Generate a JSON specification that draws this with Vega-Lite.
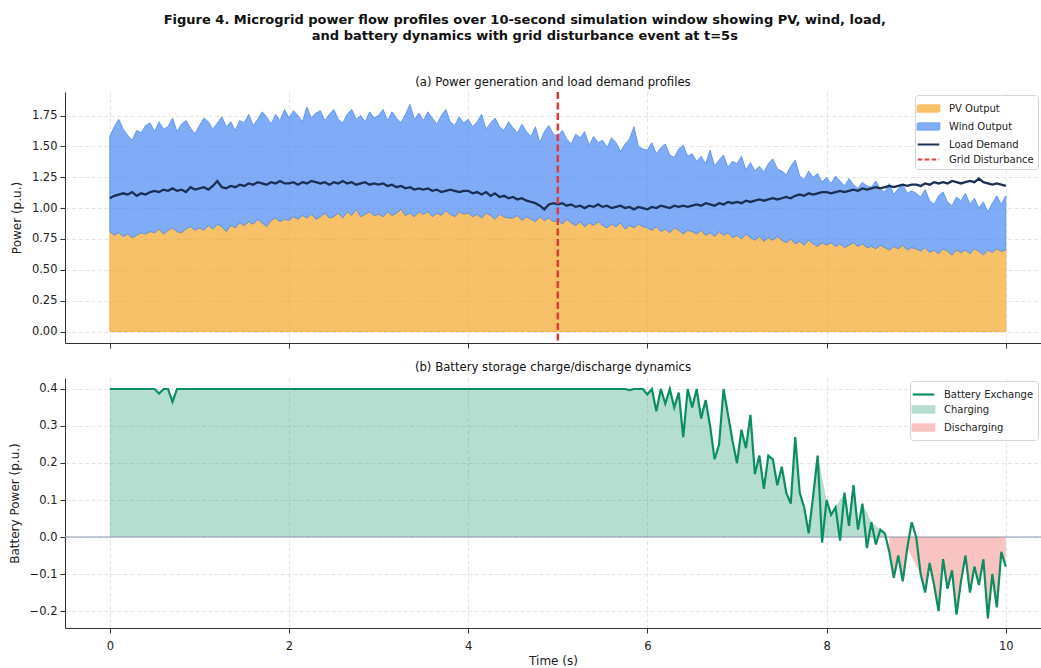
{
"$schema": "https://vega.github.io/schema/vega-lite/v6.json",
"padding": {"top": 14, "left": 8, "right": 0, "bottom": 0},
"config": {
  "font": "DejaVu Sans",
  "view": {"stroke": null},
  "axis": {"labelFont": "DejaVu Sans", "titleFont": "DejaVu Sans", "labelFontSize": 11.5, "titleFontSize": 12, "titleFontWeight": "normal", "labelColor": "#222222", "titleColor": "#222222", "domainColor": "#333333", "tickColor": "#333333", "tickSize": 5, "labelPadding": 3, "gridColor": "#dedede", "gridDash": [4, 2.5], "gridWidth": 0.8},
  "axisY": {"titlePadding": 8},
  "axisX": {"titlePadding": 4, "labelPadding": 7},
  "legend": {"labelFont": "DejaVu Sans", "labelFontSize": 10, "labelColor": "#222222", "symbolSize": 256, "labelOffset": 11, "rowPadding": 0, "padding": 4, "strokeColor": "#d5d5d5", "fillColor": "rgba(255,255,255,0.85)", "cornerRadius": 3, "orient": "top-right", "offset": 3, "title": null, "symbolOpacity": 1, "symbolStrokeWidth": 2.2}
},
"title": {"text": ["Figure 4. Microgrid power flow profiles over 10-second simulation window showing PV, wind, load,", "and battery dynamics with grid disturbance event at t=5s"], "fontSize": 13, "fontWeight": "bold", "font": "DejaVu Sans", "color": "#111111", "anchor": "middle", "offset": 34, "lineHeight": 16},
"datasets": {"mg": [
{"t":0,"pv":0.81,"gen":1.58,"load":1.08,"bat":0.4},
{"t":0.05,"pv":0.78,"gen":1.66,"load":1.10,"bat":0.4},
{"t":0.1,"pv":0.80,"gen":1.72,"load":1.11,"bat":0.4},
{"t":0.15,"pv":0.77,"gen":1.64,"load":1.12,"bat":0.4},
{"t":0.2,"pv":0.79,"gen":1.59,"load":1.11,"bat":0.4},
{"t":0.25,"pv":0.76,"gen":1.55,"load":1.13,"bat":0.4},
{"t":0.3,"pv":0.78,"gen":1.63,"load":1.10,"bat":0.4},
{"t":0.35,"pv":0.80,"gen":1.61,"load":1.12,"bat":0.4},
{"t":0.4,"pv":0.79,"gen":1.67,"load":1.11,"bat":0.4},
{"t":0.45,"pv":0.81,"gen":1.69,"load":1.13,"bat":0.4},
{"t":0.5,"pv":0.80,"gen":1.62,"load":1.14,"bat":0.4},
{"t":0.55,"pv":0.83,"gen":1.70,"load":1.13,"bat":0.388},
{"t":0.6,"pv":0.79,"gen":1.64,"load":1.15,"bat":0.4},
{"t":0.65,"pv":0.82,"gen":1.66,"load":1.14,"bat":0.4},
{"t":0.7,"pv":0.84,"gen":1.73,"load":1.16,"bat":0.365},
{"t":0.75,"pv":0.81,"gen":1.62,"load":1.14,"bat":0.4},
{"t":0.8,"pv":0.80,"gen":1.68,"load":1.15,"bat":0.4},
{"t":0.85,"pv":0.83,"gen":1.71,"load":1.13,"bat":0.4},
{"t":0.9,"pv":0.85,"gen":1.65,"load":1.17,"bat":0.4},
{"t":0.95,"pv":0.82,"gen":1.60,"load":1.15,"bat":0.4},
{"t":1,"pv":0.84,"gen":1.67,"load":1.16,"bat":0.4},
{"t":1.05,"pv":0.82,"gen":1.73,"load":1.17,"bat":0.4},
{"t":1.1,"pv":0.86,"gen":1.70,"load":1.15,"bat":0.4},
{"t":1.15,"pv":0.83,"gen":1.64,"load":1.18,"bat":0.4},
{"t":1.2,"pv":0.87,"gen":1.69,"load":1.22,"bat":0.4},
{"t":1.25,"pv":0.85,"gen":1.74,"load":1.17,"bat":0.4},
{"t":1.3,"pv":0.81,"gen":1.66,"load":1.16,"bat":0.4},
{"t":1.35,"pv":0.86,"gen":1.70,"load":1.18,"bat":0.4},
{"t":1.4,"pv":0.84,"gen":1.63,"load":1.17,"bat":0.4},
{"t":1.45,"pv":0.88,"gen":1.71,"load":1.19,"bat":0.4},
{"t":1.5,"pv":0.86,"gen":1.69,"load":1.18,"bat":0.4},
{"t":1.55,"pv":0.89,"gen":1.76,"load":1.20,"bat":0.4},
{"t":1.6,"pv":0.87,"gen":1.67,"load":1.19,"bat":0.4},
{"t":1.65,"pv":0.91,"gen":1.72,"load":1.21,"bat":0.4},
{"t":1.7,"pv":0.88,"gen":1.78,"load":1.20,"bat":0.4},
{"t":1.75,"pv":0.85,"gen":1.74,"load":1.19,"bat":0.4},
{"t":1.8,"pv":0.90,"gen":1.68,"load":1.21,"bat":0.4},
{"t":1.85,"pv":0.92,"gen":1.76,"load":1.20,"bat":0.4},
{"t":1.9,"pv":0.89,"gen":1.71,"load":1.22,"bat":0.4},
{"t":1.95,"pv":0.91,"gen":1.80,"load":1.20,"bat":0.4},
{"t":2,"pv":0.90,"gen":1.73,"load":1.20,"bat":0.4},
{"t":2.05,"pv":0.93,"gen":1.79,"load":1.21,"bat":0.4},
{"t":2.1,"pv":0.91,"gen":1.75,"load":1.19,"bat":0.4},
{"t":2.15,"pv":0.94,"gen":1.70,"load":1.21,"bat":0.4},
{"t":2.2,"pv":0.92,"gen":1.82,"load":1.20,"bat":0.4},
{"t":2.25,"pv":0.95,"gen":1.73,"load":1.22,"bat":0.4},
{"t":2.3,"pv":0.91,"gen":1.77,"load":1.21,"bat":0.4},
{"t":2.35,"pv":0.93,"gen":1.79,"load":1.20,"bat":0.4},
{"t":2.4,"pv":0.96,"gen":1.71,"load":1.21,"bat":0.4},
{"t":2.45,"pv":0.92,"gen":1.76,"load":1.19,"bat":0.4},
{"t":2.5,"pv":0.93,"gen":1.80,"load":1.21,"bat":0.4},
{"t":2.55,"pv":0.96,"gen":1.72,"load":1.20,"bat":0.4},
{"t":2.6,"pv":0.92,"gen":1.69,"load":1.22,"bat":0.4},
{"t":2.65,"pv":0.97,"gen":1.76,"load":1.20,"bat":0.4},
{"t":2.7,"pv":0.94,"gen":1.80,"load":1.21,"bat":0.4},
{"t":2.75,"pv":0.99,"gen":1.72,"load":1.19,"bat":0.4},
{"t":2.8,"pv":0.93,"gen":1.75,"load":1.20,"bat":0.4},
{"t":2.85,"pv":0.95,"gen":1.70,"load":1.21,"bat":0.4},
{"t":2.9,"pv":0.97,"gen":1.78,"load":1.19,"bat":0.4},
{"t":2.95,"pv":0.94,"gen":1.73,"load":1.20,"bat":0.4},
{"t":3,"pv":0.95,"gen":1.75,"load":1.19,"bat":0.4},
{"t":3.05,"pv":0.93,"gen":1.80,"load":1.20,"bat":0.4},
{"t":3.1,"pv":0.97,"gen":1.71,"load":1.18,"bat":0.4},
{"t":3.15,"pv":0.94,"gen":1.78,"load":1.19,"bat":0.4},
{"t":3.2,"pv":0.96,"gen":1.73,"load":1.17,"bat":0.4},
{"t":3.25,"pv":0.99,"gen":1.69,"load":1.18,"bat":0.4},
{"t":3.3,"pv":0.94,"gen":1.76,"load":1.16,"bat":0.4},
{"t":3.35,"pv":0.96,"gen":1.84,"load":1.17,"bat":0.4},
{"t":3.4,"pv":0.93,"gen":1.72,"load":1.15,"bat":0.4},
{"t":3.45,"pv":0.97,"gen":1.77,"load":1.16,"bat":0.4},
{"t":3.5,"pv":0.95,"gen":1.71,"load":1.15,"bat":0.4},
{"t":3.55,"pv":0.97,"gen":1.78,"load":1.16,"bat":0.4},
{"t":3.6,"pv":0.93,"gen":1.73,"load":1.14,"bat":0.4},
{"t":3.65,"pv":0.96,"gen":1.68,"load":1.15,"bat":0.4},
{"t":3.7,"pv":0.94,"gen":1.75,"load":1.13,"bat":0.4},
{"t":3.75,"pv":0.98,"gen":1.80,"load":1.14,"bat":0.4},
{"t":3.8,"pv":0.95,"gen":1.70,"load":1.15,"bat":0.4},
{"t":3.85,"pv":0.93,"gen":1.67,"load":1.14,"bat":0.4},
{"t":3.9,"pv":0.97,"gen":1.74,"load":1.13,"bat":0.4},
{"t":3.95,"pv":0.95,"gen":1.69,"load":1.14,"bat":0.4},
{"t":4,"pv":0.96,"gen":1.72,"load":1.14,"bat":0.4},
{"t":4.05,"pv":0.93,"gen":1.66,"load":1.12,"bat":0.4},
{"t":4.1,"pv":0.95,"gen":1.70,"load":1.13,"bat":0.4},
{"t":4.15,"pv":0.92,"gen":1.76,"load":1.11,"bat":0.4},
{"t":4.2,"pv":0.96,"gen":1.64,"load":1.13,"bat":0.4},
{"t":4.25,"pv":0.94,"gen":1.69,"load":1.10,"bat":0.4},
{"t":4.3,"pv":0.91,"gen":1.73,"load":1.12,"bat":0.4},
{"t":4.35,"pv":0.95,"gen":1.66,"load":1.09,"bat":0.4},
{"t":4.4,"pv":0.93,"gen":1.63,"load":1.10,"bat":0.4},
{"t":4.45,"pv":0.92,"gen":1.70,"load":1.08,"bat":0.4},
{"t":4.5,"pv":0.92,"gen":1.65,"load":1.09,"bat":0.4},
{"t":4.55,"pv":0.94,"gen":1.61,"load":1.07,"bat":0.4},
{"t":4.6,"pv":0.90,"gen":1.68,"load":1.08,"bat":0.4},
{"t":4.65,"pv":0.93,"gen":1.62,"load":1.06,"bat":0.4},
{"t":4.7,"pv":0.91,"gen":1.58,"load":1.05,"bat":0.4},
{"t":4.75,"pv":0.89,"gen":1.66,"load":1.04,"bat":0.4},
{"t":4.8,"pv":0.93,"gen":1.53,"load":1.02,"bat":0.4},
{"t":4.85,"pv":0.90,"gen":1.62,"load":0.99,"bat":0.4},
{"t":4.9,"pv":0.92,"gen":1.67,"load":1.03,"bat":0.4},
{"t":4.95,"pv":0.89,"gen":1.60,"load":1.04,"bat":0.4},
{"t":5,"pv":0.90,"gen":1.58,"load":1.03,"bat":0.4},
{"t":5.05,"pv":0.87,"gen":1.63,"load":1.04,"bat":0.4},
{"t":5.1,"pv":0.91,"gen":1.56,"load":1.02,"bat":0.4},
{"t":5.15,"pv":0.88,"gen":1.52,"load":1.03,"bat":0.4},
{"t":5.2,"pv":0.86,"gen":1.60,"load":1.01,"bat":0.4},
{"t":5.25,"pv":0.89,"gen":1.57,"load":1.02,"bat":0.4},
{"t":5.3,"pv":0.85,"gen":1.62,"load":1.00,"bat":0.4},
{"t":5.35,"pv":0.88,"gen":1.51,"load":1.02,"bat":0.4},
{"t":5.4,"pv":0.86,"gen":1.58,"load":1.01,"bat":0.4},
{"t":5.45,"pv":0.89,"gen":1.53,"load":1.03,"bat":0.4},
{"t":5.5,"pv":0.86,"gen":1.55,"load":1.01,"bat":0.4},
{"t":5.55,"pv":0.84,"gen":1.49,"load":1.02,"bat":0.4},
{"t":5.6,"pv":0.87,"gen":1.57,"load":1.00,"bat":0.4},
{"t":5.65,"pv":0.85,"gen":1.53,"load":1.01,"bat":0.4},
{"t":5.7,"pv":0.88,"gen":1.46,"load":1.02,"bat":0.4},
{"t":5.75,"pv":0.83,"gen":1.52,"load":1.00,"bat":0.4},
{"t":5.8,"pv":0.86,"gen":1.56,"load":1.01,"bat":0.397},
{"t":5.85,"pv":0.84,"gen":1.66,"load":0.99,"bat":0.4},
{"t":5.9,"pv":0.87,"gen":1.50,"load":1.01,"bat":0.4},
{"t":5.95,"pv":0.85,"gen":1.48,"load":1.00,"bat":0.4},
{"t":6,"pv":0.84,"gen":1.47,"load":0.99,"bat":0.385},
{"t":6.05,"pv":0.82,"gen":1.53,"load":1.01,"bat":0.40},
{"t":6.1,"pv":0.85,"gen":1.44,"load":1.00,"bat":0.34},
{"t":6.15,"pv":0.81,"gen":1.49,"load":1.02,"bat":0.40},
{"t":6.2,"pv":0.83,"gen":1.52,"load":1.01,"bat":0.36},
{"t":6.25,"pv":0.80,"gen":1.43,"load":1.00,"bat":0.40},
{"t":6.3,"pv":0.84,"gen":1.41,"load":1.02,"bat":0.35},
{"t":6.35,"pv":0.82,"gen":1.48,"load":1.01,"bat":0.39},
{"t":6.4,"pv":0.79,"gen":1.51,"load":1.02,"bat":0.27},
{"t":6.45,"pv":0.82,"gen":1.42,"load":1.01,"bat":0.40},
{"t":6.5,"pv":0.81,"gen":1.44,"load":1.02,"bat":0.35},
{"t":6.55,"pv":0.79,"gen":1.38,"load":1.03,"bat":0.40},
{"t":6.6,"pv":0.82,"gen":1.42,"load":1.02,"bat":0.32},
{"t":6.65,"pv":0.78,"gen":1.36,"load":1.04,"bat":0.37},
{"t":6.7,"pv":0.80,"gen":1.47,"load":1.03,"bat":0.30},
{"t":6.75,"pv":0.77,"gen":1.34,"load":1.02,"bat":0.21},
{"t":6.8,"pv":0.81,"gen":1.39,"load":1.04,"bat":0.25},
{"t":6.85,"pv":0.78,"gen":1.43,"load":1.03,"bat":0.40},
{"t":6.9,"pv":0.80,"gen":1.33,"load":1.05,"bat":0.33},
{"t":6.95,"pv":0.76,"gen":1.38,"load":1.04,"bat":0.26},
{"t":7,"pv":0.78,"gen":1.36,"load":1.05,"bat":0.20},
{"t":7.05,"pv":0.75,"gen":1.42,"load":1.04,"bat":0.29},
{"t":7.1,"pv":0.79,"gen":1.31,"load":1.06,"bat":0.24},
{"t":7.15,"pv":0.76,"gen":1.37,"load":1.05,"bat":0.33},
{"t":7.2,"pv":0.74,"gen":1.30,"load":1.06,"bat":0.17},
{"t":7.25,"pv":0.77,"gen":1.34,"load":1.07,"bat":0.22},
{"t":7.3,"pv":0.73,"gen":1.29,"load":1.06,"bat":0.13},
{"t":7.35,"pv":0.76,"gen":1.36,"load":1.07,"bat":0.22},
{"t":7.4,"pv":0.74,"gen":1.40,"load":1.08,"bat":0.21},
{"t":7.45,"pv":0.77,"gen":1.32,"load":1.07,"bat":0.14},
{"t":7.5,"pv":0.74,"gen":1.30,"load":1.08,"bat":0.19},
{"t":7.55,"pv":0.72,"gen":1.27,"load":1.09,"bat":0.12},
{"t":7.6,"pv":0.75,"gen":1.34,"load":1.08,"bat":0.09},
{"t":7.65,"pv":0.71,"gen":1.39,"load":1.10,"bat":0.27},
{"t":7.7,"pv":0.73,"gen":1.26,"load":1.11,"bat":0.12},
{"t":7.75,"pv":0.70,"gen":1.23,"load":1.10,"bat":0.08},
{"t":7.8,"pv":0.74,"gen":1.30,"load":1.12,"bat":0.01},
{"t":7.85,"pv":0.71,"gen":1.25,"load":1.11,"bat":0.11},
{"t":7.9,"pv":0.69,"gen":1.28,"load":1.12,"bat":0.22},
{"t":7.95,"pv":0.72,"gen":1.21,"load":1.13,"bat":-0.015},
{"t":8,"pv":0.70,"gen":1.25,"load":1.13,"bat":0.10},
{"t":8.05,"pv":0.72,"gen":1.20,"load":1.12,"bat":0.06},
{"t":8.1,"pv":0.69,"gen":1.26,"load":1.13,"bat":0.08},
{"t":8.15,"pv":0.71,"gen":1.22,"load":1.14,"bat":-0.01},
{"t":8.2,"pv":0.68,"gen":1.18,"load":1.13,"bat":0.12},
{"t":8.25,"pv":0.70,"gen":1.24,"load":1.14,"bat":0.03},
{"t":8.3,"pv":0.72,"gen":1.19,"load":1.15,"bat":0.14},
{"t":8.35,"pv":0.69,"gen":1.16,"load":1.14,"bat":0.02},
{"t":8.4,"pv":0.71,"gen":1.21,"load":1.16,"bat":0.09},
{"t":8.45,"pv":0.68,"gen":1.18,"load":1.15,"bat":-0.03},
{"t":8.5,"pv":0.69,"gen":1.17,"load":1.16,"bat":0.04},
{"t":8.55,"pv":0.67,"gen":1.22,"load":1.17,"bat":-0.02},
{"t":8.6,"pv":0.70,"gen":1.15,"load":1.16,"bat":0.02},
{"t":8.65,"pv":0.68,"gen":1.13,"load":1.17,"bat":0.01},
{"t":8.7,"pv":0.66,"gen":1.20,"load":1.18,"bat":-0.04},
{"t":8.75,"pv":0.69,"gen":1.11,"load":1.17,"bat":-0.11},
{"t":8.8,"pv":0.67,"gen":1.16,"load":1.18,"bat":-0.05},
{"t":8.85,"pv":0.70,"gen":1.19,"load":1.19,"bat":-0.12},
{"t":8.9,"pv":0.66,"gen":1.12,"load":1.18,"bat":-0.03},
{"t":8.95,"pv":0.68,"gen":1.14,"load":1.19,"bat":0.04},
{"t":9,"pv":0.67,"gen":1.12,"load":1.19,"bat":0.00},
{"t":9.05,"pv":0.65,"gen":1.09,"load":1.18,"bat":-0.10},
{"t":9.1,"pv":0.68,"gen":1.15,"load":1.20,"bat":-0.15},
{"t":9.15,"pv":0.64,"gen":1.06,"load":1.19,"bat":-0.07},
{"t":9.2,"pv":0.66,"gen":1.03,"load":1.21,"bat":-0.13},
{"t":9.25,"pv":0.63,"gen":1.10,"load":1.20,"bat":-0.20},
{"t":9.3,"pv":0.67,"gen":1.13,"load":1.21,"bat":-0.06},
{"t":9.35,"pv":0.65,"gen":1.05,"load":1.20,"bat":-0.14},
{"t":9.4,"pv":0.62,"gen":1.02,"load":1.22,"bat":-0.09},
{"t":9.45,"pv":0.66,"gen":1.09,"load":1.21,"bat":-0.21},
{"t":9.5,"pv":0.64,"gen":1.06,"load":1.20,"bat":-0.12},
{"t":9.55,"pv":0.66,"gen":1.12,"load":1.21,"bat":-0.05},
{"t":9.6,"pv":0.63,"gen":1.03,"load":1.22,"bat":-0.15},
{"t":9.65,"pv":0.67,"gen":1.08,"load":1.21,"bat":-0.08},
{"t":9.7,"pv":0.65,"gen":1.00,"load":1.24,"bat":-0.13},
{"t":9.75,"pv":0.62,"gen":1.05,"load":1.21,"bat":-0.06},
{"t":9.8,"pv":0.66,"gen":0.97,"load":1.20,"bat":-0.22},
{"t":9.85,"pv":0.64,"gen":1.04,"load":1.19,"bat":-0.10},
{"t":9.9,"pv":0.67,"gen":1.10,"load":1.20,"bat":-0.19},
{"t":9.95,"pv":0.65,"gen":1.03,"load":1.19,"bat":-0.04},
{"t":10,"pv":0.66,"gen":1.10,"load":1.18,"bat":-0.08}
]},
"data": {"name": "mg"},
"spacing": 13,
"resolve": {
  "scale": {"shape": "independent", "fill": "independent", "stroke": "independent", "strokeDash": "independent"},
  "legend": {"shape": "independent", "fill": "independent", "stroke": "independent", "strokeDash": "independent"}
},
"vconcat": [
{
  "width": 976, "height": 251,
  "title": {"text": "(a) Power generation and load demand profiles", "fontSize": 11.7, "fontWeight": "normal", "font": "DejaVu Sans", "color": "#111111", "anchor": "middle", "frame": "group", "offset": 2},
  "layer": [
    {"mark": {"type": "area", "color": "#F4A62A", "fillOpacity": 0.7, "stroke": "#F4A62A", "strokeWidth": 1, "strokeOpacity": 0.7},
     "encoding": {
       "x": {"field": "t", "type": "quantitative", "scale": {"domain": [-0.5, 10.393], "nice": false, "zero": false}, "axis": {"values": [0, 2, 4, 6, 8, 10], "labels": false, "title": null}},
       "y": {"field": "pv", "type": "quantitative", "scale": {"domain": [-0.093, 1.941], "nice": false, "zero": false}, "axis": {"values": [0, 0.25, 0.5, 0.75, 1, 1.25, 1.5, 1.75], "tickCount": 12, "format": ".2f", "title": "Power (p.u.)"}},
       "y2": {"datum": 0}
     }},
    {"mark": {"type": "area", "color": "#4A88F2", "fillOpacity": 0.7, "stroke": "#4A88F2", "strokeWidth": 1, "strokeOpacity": 0.75},
     "encoding": {
       "x": {"field": "t", "type": "quantitative", "title": null},
       "y": {"field": "gen", "type": "quantitative", "title": "Power (p.u.)"},
       "y2": {"field": "pv"}
     }},
    {"mark": {"type": "line", "color": "#1B2F52", "strokeWidth": 2.3},
     "encoding": {
       "x": {"field": "t", "type": "quantitative", "title": null},
       "y": {"field": "load", "type": "quantitative", "title": "Power (p.u.)"}
     }},
    {"data": {"values": [{"t": 5}]},
     "mark": {"type": "rule", "color": "#E53935", "strokeWidth": 2.5, "strokeDash": [7, 3.5]},
     "encoding": {
       "x": {"field": "t", "type": "quantitative", "title": null}
     }},
    {"data": {"values": [{"series": "PV Output"}, {"series": "Wind Output"}, {"series": "Load Demand"}, {"series": "Grid Disturbance"}]},
     "mark": {"type": "point", "opacity": 0, "filled": true},
     "encoding": {
       "shape": {"field": "series", "type": "nominal", "scale": {"domain": ["PV Output", "Wind Output", "Load Demand", "Grid Disturbance"], "range": ["M-1.35,-0.4H1.35V0.4H-1.35Z", "M-1.35,-0.4H1.35V0.4H-1.35Z", "M-1.35,0H1.35", "M-1.35,0H1.35"]}},
       "fill": {"field": "series", "type": "nominal", "scale": {"domain": ["PV Output", "Wind Output", "Load Demand", "Grid Disturbance"], "range": ["#f7c16a", "#80acf6", "transparent", "transparent"]}},
       "stroke": {"field": "series", "type": "nominal", "scale": {"domain": ["PV Output", "Wind Output", "Load Demand", "Grid Disturbance"], "range": ["#f7c16a", "#80acf6", "#1B2F52", "#E53935"]}},
       "strokeDash": {"field": "series", "type": "nominal", "scale": {"domain": ["PV Output", "Wind Output", "Load Demand", "Grid Disturbance"], "range": [[1, 0], [1, 0], [1, 0], [4.5, 2.5]]}}
     }}
  ]
},
{
  "width": 976, "height": 250,
  "title": {"text": "(b) Battery storage charge/discharge dynamics", "fontSize": 11.7, "fontWeight": "normal", "font": "DejaVu Sans", "color": "#111111", "anchor": "middle", "frame": "group", "offset": 4},
  "layer": [
    {"transform": [{"filter": "datum.bat >= 0 && datum.t < 8.68"}],
     "mark": {"type": "area", "color": "#0B8F62", "fillOpacity": 0.3},
     "encoding": {
       "x": {"field": "t", "type": "quantitative", "scale": {"domain": [-0.5, 10.393], "nice": false, "zero": false}, "axis": {"values": [0, 2, 4, 6, 8, 10], "format": "d", "title": "Time (s)"}},
       "y": {"field": "bat", "type": "quantitative", "scale": {"domain": [-0.2459, 0.4297], "nice": false, "zero": false}, "axis": {"values": [-0.2, -0.1, 0, 0.1, 0.2, 0.3, 0.4], "tickCount": 12, "format": ".1f", "title": "Battery Power (p.u.)"}},
       "y2": {"datum": 0}
     }},
    {"transform": [{"filter": "datum.bat < 0 && datum.t > 8.68"}],
     "mark": {"type": "area", "color": "#EF5350", "fillOpacity": 0.35},
     "encoding": {
       "x": {"field": "t", "type": "quantitative", "title": "Time (s)"},
       "y": {"field": "bat", "type": "quantitative", "title": "Battery Power (p.u.)"},
       "y2": {"datum": 0}
     }},
    {"data": {"values": [{"level": 0}]},
     "mark": {"type": "rule", "color": "#8c9aab", "strokeWidth": 1.2},
     "encoding": {
       "y": {"field": "level", "type": "quantitative", "title": "Battery Power (p.u.)"}
     }},
    {"mark": {"type": "line", "color": "#0B8F62", "strokeWidth": 2.2},
     "encoding": {
       "x": {"field": "t", "type": "quantitative", "title": "Time (s)"},
       "y": {"field": "bat", "type": "quantitative", "title": "Battery Power (p.u.)"}
     }},
    {"data": {"values": [{"series": "Battery Exchange"}, {"series": "Charging"}, {"series": "Discharging"}]},
     "mark": {"type": "point", "opacity": 0, "filled": true},
     "encoding": {
       "shape": {"field": "series", "type": "nominal", "scale": {"domain": ["Battery Exchange", "Charging", "Discharging"], "range": ["M-1.35,0H1.35", "M-1.35,-0.4H1.35V0.4H-1.35Z", "M-1.35,-0.4H1.35V0.4H-1.35Z"]}},
       "fill": {"field": "series", "type": "nominal", "scale": {"domain": ["Battery Exchange", "Charging", "Discharging"], "range": ["transparent", "#b6ddd0", "#f9c3c2"]}},
       "stroke": {"field": "series", "type": "nominal", "scale": {"domain": ["Battery Exchange", "Charging", "Discharging"], "range": ["#0B8F62", "#b6ddd0", "#f9c3c2"]}}
     }}
  ]
}
]
}
